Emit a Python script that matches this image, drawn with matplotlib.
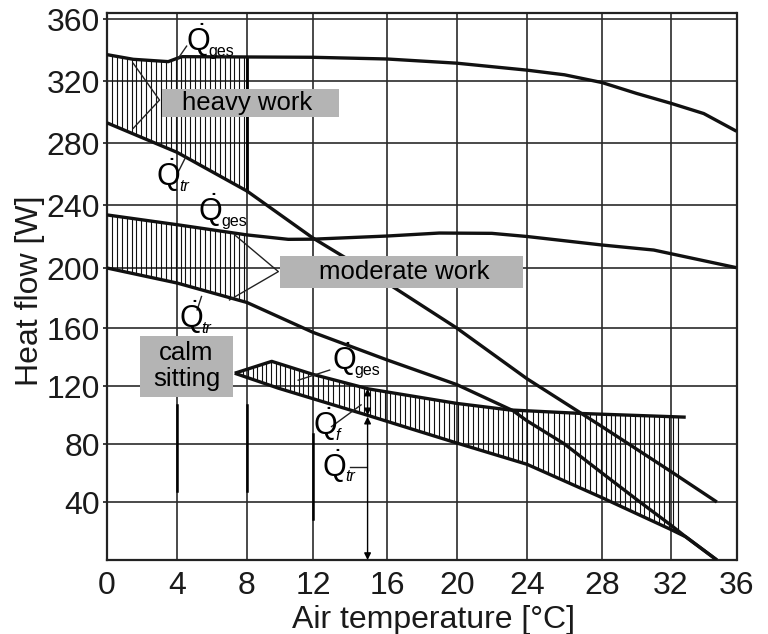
import numpy as np
import matplotlib
matplotlib.use('Agg')
import matplotlib.pyplot as plt
from matplotlib.patches import Rectangle

plt.rcParams['font.family'] = ['Liberation Sans', 'DejaVu Sans']
plt.rcParams['mathtext.fontset'] = 'custom'
plt.rcParams['mathtext.rm'] = 'Liberation Sans'
plt.rcParams['mathtext.it'] = 'Liberation Sans:italic'
plt.rcParams['mathtext.bf'] = 'Liberation Sans:bold'

# ---------------- data ----------------
x_ticks = [0, 4, 8, 12, 16, 20, 24, 28, 32, 36]
y_ticks = [40, 80, 120, 160, 200, 240, 280, 320, 360]

heavy_ges_t = [0, 1.5, 3.5, 4, 4.3, 8, 12, 16, 20, 24, 26, 28, 30, 32, 34, 36]
heavy_ges_q = [337, 334, 332.5, 334.6, 335.7, 335.5, 335.3, 334.2, 331.5, 327, 324, 319, 312, 305.6, 299, 287.6]
heavy_tr_t = [0, 4, 8, 12, 16, 20, 24, 28, 32, 34.8]
heavy_tr_q = [293, 274, 249, 219, 190, 160, 125, 92, 61, 40]

mod_ges_t = [0, 4, 8, 10.5, 12, 16, 19, 22, 24, 28, 31, 36]
mod_ges_q = [233.7, 227.5, 221, 218.2, 218.3, 220.3, 222.2, 222, 220, 214.6, 211.4, 200.2]
mod_tr_t = [0, 4, 8, 12, 16, 20, 23.2, 24, 26, 28, 30.2, 32, 32.9, 34.8]
mod_tr_q = [200, 190, 177, 157, 138, 121, 103, 96, 80, 60, 40, 24, 16, 0]

calm_ges_t = [7.3, 9.5, 12, 15, 20, 23, 27, 32.9]
calm_ges_q = [128.8, 137, 128, 118, 108, 103.5, 101, 98.5]
calm_tr_t = [7.3, 9.9, 14.9, 20, 24, 28, 32, 32.9, 34.8]
calm_tr_q = [128.8, 118.5, 100, 80.7, 66, 43, 21, 16, 0]

heavy_hatch_span = (0.0, 8.0)
mod_hatch_span = (0.0, 8.0)
calm_hatch_span = (7.5, 32.6)
hatch_step = 0.28

arrow_t = 14.95  # position of the Q_f / Q_tr arrows

# slightly uneven grid spacing of the scanned original (axis calibration)
x_knots = [0, 4, 8, 12, 16, 20, 24, 28, 32, 36]
x_pix = [0, 70, 140, 206, 280, 349.7, 420, 495, 564, 629.5]
y_knots = [0, 40, 80, 120, 160, 200, 240, 280, 320, 360, 364]
y_pix = [0, 58, 116, 174, 232, 292, 355, 417, 479, 541, 547]


def mk(kn, px):
    kn = np.asarray(kn, float); px = np.asarray(px, float)
    sl0 = (px[1] - px[0]) / (kn[1] - kn[0]); sl1 = (px[-1] - px[-2]) / (kn[-1] - kn[-2])

    def fwd(v):
        v = np.asarray(v, float)
        out = np.interp(v, kn, px)
        out = np.where(v < kn[0], px[0] + (v - kn[0]) * sl0, out)
        out = np.where(v > kn[-1], px[-1] + (v - kn[-1]) * sl1, out)
        return out

    def inv(p):
        p = np.asarray(p, float)
        out = np.interp(p, px, kn)
        out = np.where(p < px[0], kn[0] + (p - px[0]) / sl0, out)
        out = np.where(p > px[-1], kn[-1] + (p - px[-1]) / sl1, out)
        return out
    return fwd, inv

# ---------------- figure ----------------
fig = plt.figure(figsize=(7.68, 6.34), dpi=100)
ax = fig.add_axes([107/768, (634-560)/634, 629.5/768, 547/634])
ax.set_xscale('function', functions=mk(x_knots, x_pix))
ax.set_yscale('function', functions=mk(y_knots, y_pix))
ax.set_xlim(0, 36)
ax.set_ylim(0, 364)

GRID = '#2b2b2b'
for t in x_ticks[1:-1]:
    ax.axvline(t, color=GRID, lw=1.2, zorder=1)
for q in y_ticks:
    ax.axhline(q, color=GRID, lw=1.2, zorder=1)

# darker remnant segments in the lower left
for t, (q0, q1) in zip([4, 8, 12], [(47.6, 107), (47.6, 107), (28, 87)]):
    ax.plot([t, t], [q0, q1], color='black', lw=1.8, zorder=1.5)


def hatch(lo_t, lo_q, hi_t, hi_q, span):
    xs = np.arange(span[0], span[1] + 1e-9, hatch_step)
    lo = np.interp(xs, lo_t, lo_q)
    hi = np.interp(xs, hi_t, hi_q)
    ax.vlines(xs, lo, hi, color='#111111', lw=0.8, zorder=2)

hatch(heavy_tr_t, heavy_tr_q, heavy_ges_t, heavy_ges_q, heavy_hatch_span)
hatch(mod_tr_t, mod_tr_q, mod_ges_t, mod_ges_q, mod_hatch_span)
hatch(calm_tr_t, calm_tr_q, calm_ges_t, calm_ges_q, calm_hatch_span)

# right edge of heavy hatch
x8 = heavy_hatch_span[1]
ax.plot([x8, x8], [np.interp(x8, heavy_tr_t, heavy_tr_q), np.interp(x8, heavy_ges_t, heavy_ges_q)],
        color='black', lw=2.0, zorder=2)

LW = 2.4
for tt, qq in [(heavy_ges_t, heavy_ges_q), (heavy_tr_t, heavy_tr_q),
               (mod_ges_t, mod_ges_q), (mod_tr_t, mod_tr_q),
               (calm_ges_t, calm_ges_q), (calm_tr_t, calm_tr_q)]:
    ax.plot(tt, qq, color='#111111', lw=LW, zorder=3, solid_capstyle='butt')

# leader lines
thin = dict(color='#222222', lw=1.0, zorder=3)
ax.plot([1.5, 3.0, 1.5], [331.4, 307.7, 289.5], **thin)          # heavy work >
ax.plot([7.3, 9.9, 7.0], [221, 197.6, 178.7], **thin)            # moderate work >
ax.plot([4.55, 4.0], [342.5, 333.5], **thin)                     # heavy Q_ges
ax.plot([4.1, 4.5], [262, 271], **thin)                          # heavy Q_tr
ax.plot([5.15, 5.4], [172, 181], **thin)                         # moderate Q_tr
ax.plot([12.9, 11.1], [131, 124], **thin)                        # calm Q_ges
ax.plot([13.0, 14.6], [92, 107], **thin)                         # Q_f
ax.plot([14.0, 14.85], [64, 64], **thin)                         # Q_tr calm

# arrows
q_ges_a = np.interp(arrow_t, calm_ges_t, calm_ges_q)
q_tr_a = np.interp(arrow_t, calm_tr_t, calm_tr_q)
ap = dict(arrowstyle='<|-|>', color='black', lw=1.0, mutation_scale=10, shrinkA=0, shrinkB=0)
ax.annotate('', xy=(arrow_t, q_ges_a), xytext=(arrow_t, q_tr_a), arrowprops=ap, zorder=4)
ax.annotate('', xy=(arrow_t, q_tr_a - 1), xytext=(arrow_t, 0), arrowprops=ap, zorder=4)

# gray label boxes
BOX = '#b4b4b4'
for (t0, t1, q0, q1) in [(3.14, 13.4, 296.6, 314.6), (10.0, 23.8, 186.5, 207.7), (1.9, 7.2, 112.7, 154.5)]:
    ax.add_patch(Rectangle((t0, q0), t1 - t0, q1 - q0, facecolor=BOX, edgecolor='none', zorder=5))
ax.text(8.0, 305.6, 'heavy work', fontsize=18.5, ha='center', va='center', zorder=6)
ax.text(17.0, 197.2, 'moderate work', fontsize=18.5, ha='center', va='center', zorder=6)
ax.text(4.55, 133.6, 'calm\nsitting', fontsize=18.5, ha='center', va='center', zorder=6, linespacing=1.1)

# Q labels: big Q with dot + small, lowered subscript
def qlabel(t, q, sub, italic):
    ax.text(t, q, r'$\dot{\mathrm{Q}}$', fontsize=22, ha='left', va='baseline', zorder=6)
    ax.annotate(sub, xy=(t, q), xytext=(16.5, -3.5), textcoords='offset points',
                fontsize=11.5, ha='left', va='baseline', zorder=6,
                style='italic' if italic else 'normal')

qlabel(4.5, 339.5, 'ges', False)
qlabel(2.8, 252, 'tr', True)
qlabel(5.2, 230, 'ges', False)
qlabel(4.1, 160, 'tr', True)
qlabel(13.0, 131, 'ges', False)
qlabel(12.0, 86, 'f', True)
qlabel(12.5, 57.5, 'tr', True)

# axes styling
ax.set_xticks(x_ticks)
ax.set_xticklabels([str(v) for v in x_ticks])
ax.set_yticks(y_ticks)
ax.set_yticklabels([str(v) for v in y_ticks])
ax.minorticks_off()
ax.tick_params(axis='x', length=0, pad=8, labelsize=23, colors='#1a1a1a')
ax.tick_params(axis='y', length=3, pad=2, labelsize=23, colors='#1a1a1a', width=1.2)
for s in ax.spines.values():
    s.set_linewidth(1.6)
    s.set_color('#222222')

fig.text(434/768, (634-628)/634, 'Air temperature [°C]', fontsize=23, ha='center', va='baseline', color='#1a1a1a')
fig.text(30/768, 0.541, 'Heat flow [W]', fontsize=23, ha='center', va='center', rotation=90, color='#1a1a1a')

fig.savefig('out.png', dpi=100)
